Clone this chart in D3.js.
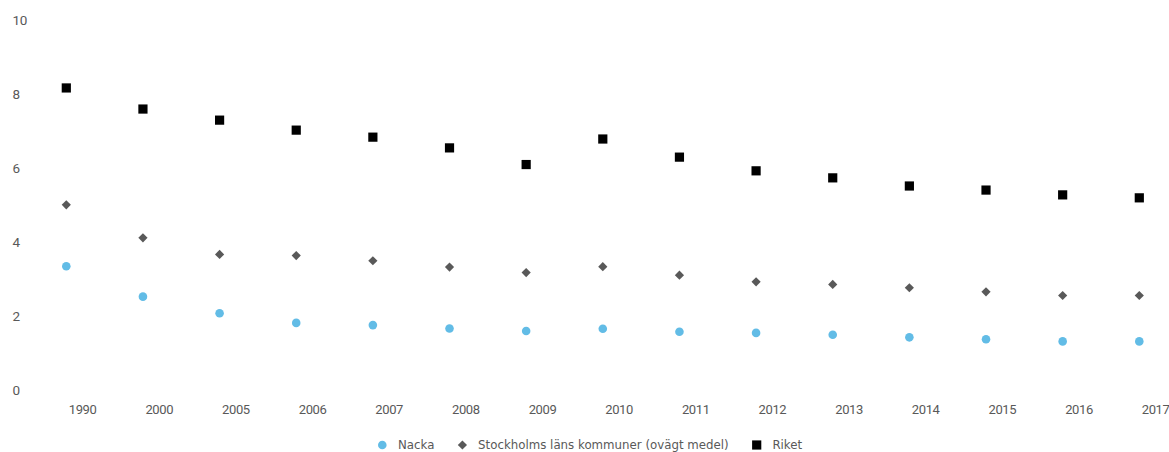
<!DOCTYPE html>
<html>
<head>
<meta charset="utf-8">
<style>
  body { margin: 0; background: #fff; }
  .axis path, .axis line { display: none; }
</style>
</head>
<body>
<div id="chart"></div>
<script src="https://d3js.org/d3.v7.min.js"></script>
<script>
// data
var years = ["1990", "2000", "2005", "2006", "2007", "2008", "2009", "2010", "2011", "2012", "2013", "2014", "2015", "2016", "2017"];
var nacka = [3.33, 2.51, 2.06, 1.80, 1.74, 1.65, 1.58, 1.64, 1.56, 1.53, 1.48, 1.41, 1.36, 1.30, 1.30];
var stockholm = [4.99, 4.10, 3.65, 3.62, 3.48, 3.31, 3.16, 3.32, 3.09, 2.91, 2.84, 2.75, 2.64, 2.54, 2.54];
var riket = [8.15, 7.58, 7.28, 7.01, 6.82, 6.53, 6.08, 6.77, 6.28, 5.91, 5.72, 5.50, 5.39, 5.26, 5.18];
var yTicks = [0, 2, 4, 6, 8, 10];
var seriesNames = ["Nacka", "Stockholms läns kommuner (ovägt medel)", "Riket"];

var width = 1169, height = 452;
var textColor = "#595959";
var axisFont = "'Roboto', sans-serif";
var legendFont = "'DejaVu Sans', sans-serif";

var svg = d3.select("#chart").append("svg")
    .attr("width", width)
    .attr("height", height);

var x = d3.scalePoint()
    .domain(years)
    .range([66.3, 1139.3]);

var y = d3.scaleLinear()
    .domain([0, 10])
    .range([389.5, 19.5]);

// y axis
var yAxis = svg.append("g")
    .attr("class", "axis")
    .attr("transform", "translate(29,0)")
    .call(d3.axisLeft(y).tickValues(yTicks).tickSize(0));
yAxis.selectAll("text")
    .attr("x", -16.5)
    .attr("dy", "0.36em")
    .attr("text-anchor", "start")
    .style("font-family", axisFont)
    .style("font-size", "13.5px")
    .style("letter-spacing", "-0.3px")
    .attr("fill", textColor);

// x axis
var xAxis = svg.append("g")
    .attr("class", "axis")
    .attr("transform", "translate(0,413.5)")
    .call(d3.axisBottom(x).tickSize(0));
xAxis.selectAll("text")
    .attr("y", 0)
    .attr("dy", 0)
    .attr("dx", 2)
    .attr("text-anchor", "start")
    .style("font-family", axisFont)
    .style("font-size", "13px")
    .style("letter-spacing", "-0.4px")
    .attr("fill", textColor);

var series = [
  {name: seriesNames[0], values: nacka, shape: "circle", color: "#62BCE6"},
  {name: seriesNames[1], values: stockholm, shape: "diamond", color: "#595959"},
  {name: seriesNames[2], values: riket, shape: "square", color: "#000000"}
];

function symbolPath(s) {
  if (s.shape === "circle") return d3.symbol().type(d3.symbolCircle).size(58)();
  if (s.shape === "diamond") return "M0,-4.6L4.6,0L0,4.6L-4.6,0Z";
  return "M-4.6,-4.6H4.6V4.6H-4.6Z";
}

series.forEach(function(s) {
  svg.append("g")
    .selectAll("path")
    .data(s.values)
    .enter().append("path")
      .attr("d", symbolPath(s))
      .attr("transform", function(d, i) { return "translate(" + x(years[i]) + "," + y(d) + ")"; })
      .attr("fill", s.color);
});

// legend
var legend = svg.append("g")
    .style("font-family", legendFont)
    .style("font-size", "11.8px");

var lx = 382.3;
var itemGap = 28;
series.forEach(function(s) {
  var item = legend.append("g").attr("transform", "translate(" + lx + ",445)");
  item.append("path")
    .attr("d", symbolPath(s))
    .attr("fill", s.color);
  var t = item.append("text")
    .attr("x", 15.7)
    .attr("dy", "0.36em")
    .attr("fill", textColor)
    .text(s.name);
  lx += 15.7 + t.node().getComputedTextLength() + itemGap;
});
</script>
</body>
</html>
